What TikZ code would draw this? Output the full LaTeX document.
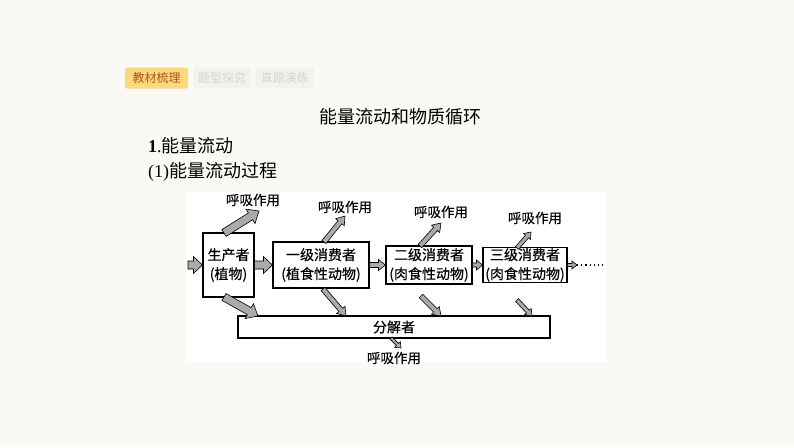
\documentclass[tikz,border=0pt]{standalone}
\usepackage{fontspec}
\setmainfont{Liberation Serif}
\newfontfamily\cjk{Noto Sans CJK SC}
\newfontfamily\cjkd[FakeBold=0.4]{Noto Sans CJK SC}
\usetikzlibrary{calc,positioning}
\definecolor{pagebg}{RGB}{251,249,243}
\definecolor{tabyellow}{RGB}{253,216,125}
\definecolor{tabtext}{RGB}{170,86,30}
\definecolor{tabgray}{RGB}{242,242,239}
\definecolor{tabgraytext}{RGB}{212,212,208}
\definecolor{arrowgray}{RGB}{170,170,170}
\tikzset{
    stage/.style = {draw=black, line width=1.1pt, fill=white, inner sep=1pt,
            align=center, font=\cjkd\fontsize{14}{19}\selectfont},
    resp/.style  = {inner sep=0pt, font=\cjkd\fontsize{13.5}{15}\selectfont},
    fat/.style   = {draw=black, line width=0.6pt, fill=arrowgray, line join=miter},
    tab/.style   = {rounded corners=2pt, minimum height=21pt, inner sep=0pt,
            font=\cjk\fontsize{12}{13}\selectfont},
    heading/.style = {inner sep=0pt, anchor=west, font=\fontsize{18}{20}\selectfont},
}
% block arrow from #1 to #2: shaft half width #3, head half width #4, head length #5
\newcommand\flowarrow[5]{%
    \path[fat] let \p1=($(#2)-(#1)$), \n1={veclen(\x1,\y1)},
        \n2={atan2(\y1,\x1)}, \n3={\n1-#5} in
        [shift={(#1)}, rotate=\n2]
        (0pt,#3pt) -- (\n3,#3pt) -- (\n3,#4pt) -- (\n1,0pt)
        -- (\n3,-#4pt) -- (\n3,-#3pt) -- (0pt,-#3pt) -- cycle;}

\begin{document}
\begin{tikzpicture}[x=1pt, y=-1pt]
    \useasboundingbox (0,0) rectangle (794,447);
    \fill[pagebg] (0,0) rectangle (794,447);

    % tabs and headings
    \node[tab, fill=tabyellow, text=tabtext, minimum width=63pt] (tab1) at (156.5,78) {教材梳理};
    \node[tab, fill=tabgray, text=tabgraytext, minimum width=57pt, right=5pt of tab1] (tab2) {题型探究};
    \node[tab, fill=tabgray, text=tabgraytext, minimum width=58pt, right=5pt of tab2] (tab3) {真题演练};
    \node[inner sep=0pt, font=\cjk\fontsize{18}{20}\selectfont] (title) at (400,117) {能量流动和物质循环};
    \node[heading] (sec) at (148,146) {\textbf{1}.{\cjk 能量流动}};
    \node[heading] (sub) at (148,172) {(1){\cjk 能量流动过程}};

    % diagram
    \fill[white] (187,192) rectangle (607,362);

    % Nodes
    \node[stage, minimum width=51pt, minimum height=64pt] (prod) at (228.5,265) {生产者\\(植物)};
    \node[stage, minimum width=96pt, minimum height=46pt] (cons1) at (321,265) {一级消费者\\(植食性动物)};
    \node[stage, minimum width=86pt, minimum height=38pt] (cons2) at (429,265) {二级消费者\\(肉食性动物)};
    \node[stage, minimum width=84pt, minimum height=34pt] (cons3) at (525,265) {三级消费者\\(肉食性动物)};
    \node[stage, minimum width=312pt, minimum height=22pt, inner sep=0pt] (decomp) at (394,327) {分解者};

    \node[resp] (resp0) at (253,200) {呼吸作用};
    \node[resp] (resp1) at (345,207) {呼吸作用};
    \node[resp] (resp2) at (441,212) {呼吸作用};
    \node[resp] (resp3) at (535,218) {呼吸作用};
    \node[resp] (resp4) at (394,358) {呼吸作用};

    \coordinate (src)  at (188,265);
    \coordinate (tail) at (577,265);
    \coordinate (etc)  at (606,265);

    % Arrows along the chain
    \flowarrow{src}{prod.west}{4}{8.5}{9}
    \flowarrow{prod.east}{cons1.west}{4}{8.5}{9}
    \flowarrow{cons1.east}{cons2.west}{2.5}{5.5}{7}
    \flowarrow{cons2.east}{cons3.west}{2}{5}{6}
    \flowarrow{cons3.east}{tail}{1.5}{4}{5}
    \draw[line width=1.4pt, dash pattern=on 1.2pt off 3pt] (tail) -- (etc);

    % respiration
    \coordinate (p-up) at (224,233);  \coordinate (p-upend) at (259,211);
    \coordinate (c1-up) at (324,242); \coordinate (c1-upend) at (345,216);
    \coordinate (c2-up) at (420,246); \coordinate (c2-upend) at (441,223);
    \coordinate (c3-up) at (517,248); \coordinate (c3-upend) at (531,232);
    \flowarrow{p-up}{p-upend}{4}{8.5}{10}
    \flowarrow{c1-up}{c1-upend}{2.5}{5.5}{8}
    \flowarrow{c2-up}{c2-upend}{2.5}{5.5}{8}
    \flowarrow{c3-up}{c3-upend}{2}{4.5}{6}

    % to decomposers
    \coordinate (p-dn) at (224,297);  \coordinate (p-dnend) at (258,316);
    \coordinate (c1-dn) at (323,289); \coordinate (c1-dnend) at (346,316);
    \coordinate (c2-dn) at (421,296); \coordinate (c2-dnend) at (441,316);
    \coordinate (c3-dn) at (517,300); \coordinate (c3-dnend) at (532,316);
    \flowarrow{p-dn}{p-dnend}{4}{8.5}{10}
    \flowarrow{c1-dn}{c1-dnend}{2.5}{5.5}{8}
    \flowarrow{c2-dn}{c2-dnend}{2.5}{5.5}{8}
    \flowarrow{c3-dn}{c3-dnend}{2}{4.5}{6}

    \coordinate (d-dn) at (391,338); \coordinate (d-dnend) at (401,348);
    \flowarrow{d-dn}{d-dnend}{1.5}{4}{5}
\end{tikzpicture}
\end{document}
